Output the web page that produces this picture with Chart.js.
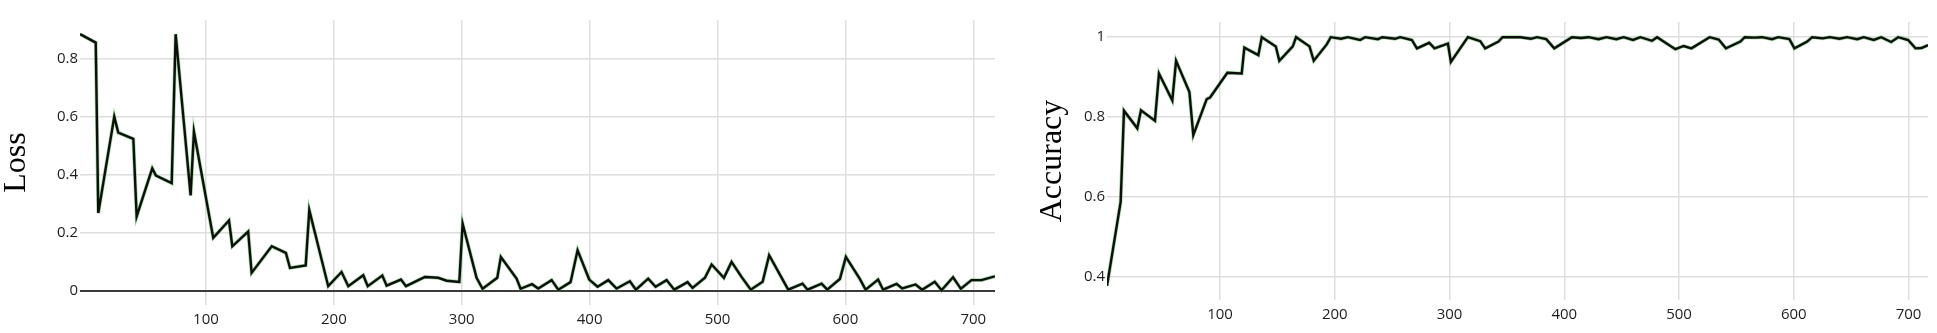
<!DOCTYPE html>
<html>
<head>
<meta charset="utf-8">
<title>Loss / Accuracy</title>
<script src="https://cdn.jsdelivr.net/npm/chart.js@4.4.1/dist/chart.umd.min.js"></script>
<style>
    html, body { margin: 0; padding: 0; background: #ffffff; }
    body { width: 1937px; height: 333px; position: relative; overflow: hidden; }
    .panel { position: absolute; top: 0; height: 333px; }
    #lossBox { left: 0; width: 995px; }
    #accBox { left: 1000px; width: 928px; }
</style>
</head>
<body>
<div class="panel" id="lossBox"><canvas id="lossChart"></canvas></div>
<div class="panel" id="accBox"><canvas id="accChart"></canvas></div>
<script>
// x positions (iterations) and values
const lossX = [1.5, 13.8, 15.8, 28.3, 31.4, 43.2, 45.8, 58, 60.9, 73.2, 76.3, 88, 90.6, 105.7, 118, 120.6, 133, 135.7, 151.4, 162.5, 165.7, 178, 180.8,
    195.6, 206, 211.3, 223, 226.5, 237.9, 241.3, 252.5, 256.4, 271.2, 281.6, 288.2, 298.1, 300.7, 311.6, 316.3, 327.8, 330.6, 342.9, 346, 355, 359.8,
    370.3, 375.5, 385.1, 390.6, 399.7, 406.2, 414.6, 421.1, 431.5, 436.2, 445.8, 451.6, 460.2, 466.2, 476.6, 480.5, 490.2, 495.4, 505, 511, 518.8,
    526, 535.3, 540.4, 555.3, 566.5, 570.4, 581.4, 585.8, 595.7, 600.4, 611.3, 615.8, 625.6, 629.5, 640, 644.4, 654.9, 660, 669.9, 675.2, 684.2,
    690.3, 698.6, 706.4, 717];
const lossY = [0.886, 0.857, 0.268, 0.601, 0.546, 0.524, 0.256, 0.422, 0.397, 0.371, 0.886, 0.329, 0.549, 0.182, 0.242, 0.153, 0.204, 0.061, 0.153, 0.130, 0.078, 0.087, 0.278,
    0.015, 0.064, 0.015, 0.053, 0.015, 0.052, 0.017, 0.038, 0.015, 0.047, 0.044, 0.034, 0.030, 0.231, 0.044, 0.006, 0.044, 0.116, 0.041, 0.006, 0.022, 0.007,
    0.036, 0.003, 0.029, 0.139, 0.038, 0.013, 0.036, 0.007, 0.032, 0.003, 0.041, 0.013, 0.036, 0.003, 0.029, 0.009, 0.044, 0.090, 0.044, 0.099, 0.047,
    0.003, 0.030, 0.122, 0.003, 0.024, 0.003, 0.024, 0.003, 0.040, 0.116, 0.040, 0.003, 0.038, 0.003, 0.023, 0.007, 0.021, 0.003, 0.030, 0.001, 0.046,
    0.006, 0.036, 0.036, 0.049];

const accX = [1.5, 13.4, 16.3, 27.9, 31.1, 43.3, 46.8, 58.4, 61.7, 73.3, 76.7, 88.4, 91.3, 106.4, 118.9, 121.2, 133.4, 136.4, 148.6, 151.7, 163.4, 166.3, 178, 181.7,
    193, 196.5, 205.5, 211.4, 222.1, 226.5, 237.5, 241.5, 252.6, 257, 267.2, 271.6, 282.3, 286.9, 298.6, 301.2, 316, 326.8, 331.1, 342.7, 346.2,
    361.6, 371, 376.2, 384.3, 391.3, 406.7, 414.6, 421.2, 429.9, 436.7, 445.4, 451.7, 459.9, 466.3, 476.5, 480.9, 496.8, 504.1, 510.8, 526.7,
    534.6, 540.9, 553.5, 557.3, 566, 572.4, 581.1, 586.4, 596.2, 600.6, 611.7, 616, 625.3, 631.4, 639.8, 646.5, 655.3, 661, 669.7, 676.2,
    684.9, 691, 699.7, 706.1, 711.4, 717];
const accY = [0.378, 0.588, 0.816, 0.772, 0.817, 0.791, 0.909, 0.842, 0.941, 0.863, 0.755, 0.845, 0.849, 0.911, 0.909, 0.974, 0.955, 1.0, 0.977, 0.941, 0.977, 1.0, 0.977, 0.941,
    0.982, 1.0, 0.996, 1.0, 0.993, 1.0, 0.995, 1.0, 0.996, 1.0, 0.993, 0.972, 0.986, 0.972, 0.984, 0.938, 1.0, 0.99, 0.972, 0.989, 1.0,
    1.0, 0.996, 1.0, 0.995, 0.972, 1.0, 0.998, 1.0, 0.995, 1.0, 0.995, 1.0, 0.993, 1.0, 0.991, 1.0, 0.97, 0.978, 0.972, 1.0,
    0.994, 0.972, 0.989, 1.0, 0.999, 1.0, 0.995, 1.0, 0.995, 0.972, 0.989, 1.0, 0.997, 1.0, 0.996, 1.0, 0.995, 1.0, 0.993, 1.0,
    0.988, 1.0, 0.993, 0.972, 0.973, 0.98];

const xTicks = [100, 200, 300, 400, 500, 600, 700];
const lossTicks = [0, 0.2, 0.4, 0.6, 0.8];
const accTicks = [0.4, 0.6, 0.8, 1];

Chart.defaults.font.family = "'Open Sans', 'Noto Sans', sans-serif";
Chart.defaults.color = '#1e1e1e';

const GRID = '#dedede';

function toPoints(xs, ys) {
    return xs.map((x, i) => ({ x, y: ys[i] }));
}

// a dark line with a faint green edge, like the original
function lineSets(points) {
    return [
        { data: points, borderColor: '#0c0f0c', borderWidth: 2.4, pointRadius: 0, tension: 0, order: 0 },
        { data: points, borderColor: 'rgba(60,170,60,0.45)', borderWidth: 3.8, pointRadius: 0, tension: 0, order: 1 }
    ];
}

function makeChart(id, opts) {
    return new Chart(document.getElementById(id), {
        type: 'line',
        data: { datasets: lineSets(opts.points) },
        options: {
            responsive: true,
            maintainAspectRatio: false,
            animation: false,
            layout: { padding: { top: opts.padTop, right: 0, bottom: 0, left: 0 } },
            plugins: { legend: { display: false }, tooltip: { enabled: false } },
            scales: {
                x: {
                    type: 'linear',
                    min: 1.5,
                    max: 717,
                    afterBuildTicks: s => { s.ticks = xTicks.map(v => ({ value: v })); },
                    afterFit: s => { s.height = opts.xHeight; },
                    grid: { color: GRID, lineWidth: 1.5, drawTicks: false },
                    border: { display: false },
                    ticks: { font: { size: 15 }, padding: 6, maxRotation: 0 }
                },
                y: {
                    min: opts.yMin,
                    max: opts.yMax,
                    afterBuildTicks: s => { s.ticks = opts.yTicks.map(v => ({ value: v })); },
                    afterFit: s => { s.width = opts.yWidth; },
                    grid: {
                        color: ctx => (opts.darkZero && ctx.tick && ctx.tick.value === 0) ? '#3c3c3c' : GRID,
                        lineWidth: ctx => (opts.darkZero && ctx.tick && ctx.tick.value === 0) ? 2 : 1.5,
                        drawTicks: false
                    },
                    border: { display: false },
                    ticks: { font: { size: 15 }, padding: 2, callback: v => String(v) },
                    title: {
                        display: true,
                        text: opts.title,
                        color: '#000000',
                        font: { family: "'Liberation Serif', 'DejaVu Serif', serif", size: 32, lineHeight: 1 },
                        padding: { top: opts.titlePad, bottom: 0 }
                    }
                }
            }
        }
    });
}

makeChart('lossChart', {
    points: toPoints(lossX, lossY),
    yMin: -0.05, yMax: 0.935, yTicks: lossTicks,
    padTop: 20, xHeight: 28, yWidth: 80, titlePad: 1,
    title: 'Loss', darkZero: true
});

makeChart('accChart', {
    points: toPoints(accX, accY),
    yMin: 0.3425, yMax: 1.038, yTicks: accTicks,
    padTop: 22, xHeight: 33, yWidth: 107, titlePad: 37,
    title: 'Accuracy', darkZero: false
});
</script>
</body>
</html>
